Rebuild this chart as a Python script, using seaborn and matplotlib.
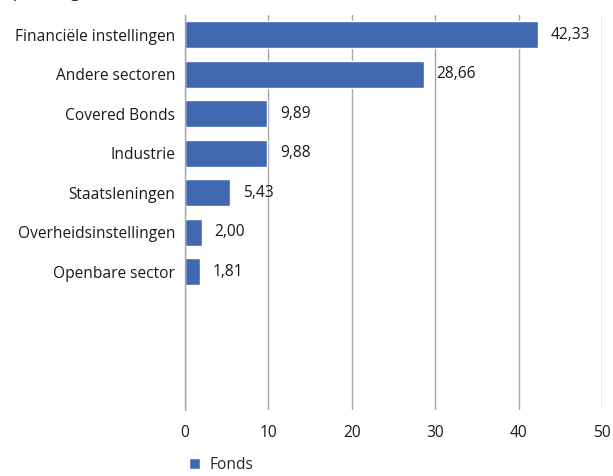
import matplotlib
matplotlib.use("Agg")
import matplotlib.pyplot as plt
import seaborn as sns
import pandas as pd
from matplotlib.patches import Patch

categories = ["Financiële instellingen", "Andere sectoren", "Covered Bonds",
              "Industrie", "Staatsleningen", "Overheidsinstellingen", "Openbare sector"]
values = [42.33, 28.66, 9.89, 9.88, 5.43, 2.00, 1.81]
x_ticks = [0, 10, 20, 30, 40, 50]
series_name = "Fonds"
title = "Spreiding (%)"

df = pd.DataFrame({"sector": categories, "pct": values})

sns.set_theme(style="white")
plt.rcParams["font.family"] = ["Open Sans", "DejaVu Sans"]

bar_color = "#4169B1"
grid_color = "#A6A6A6"
text_color = "#1a1a1a"
fs = 11.2

fig = plt.figure(figsize=(6.13, 4.76), dpi=100)
ax = fig.add_axes([185 / 613, 66 / 476, 417 / 613, 395 / 476])

sns.barplot(data=df, x="pct", y="sector", orient="h", color=bar_color,
            width=0.68, saturation=1, ax=ax)

# ten category slots, the last three left empty
ax.set_ylim(9.5, -0.5)
ax.set_xlim(0, 50)
ax.set_xticks(x_ticks)
ax.set_xticklabels([str(t) for t in x_ticks], fontsize=fs, color=text_color)
ax.tick_params(axis="x", length=0, pad=11)
ax.tick_params(axis="y", length=0, pad=7, labelsize=fs, labelcolor=text_color)
ax.set_xlabel("")
ax.set_ylabel("")

ax.xaxis.grid(True, color=grid_color, linewidth=1)
ax.set_axisbelow(True)
for side in ["top", "right", "bottom"]:
    ax.spines[side].set_visible(False)
ax.spines["left"].set_color(grid_color)
ax.spines["left"].set_linewidth(1)

for i, v in enumerate(values):
    ax.annotate(f"{v:.2f}".replace(".", ","), xy=(v, i), xytext=(9, 0),
                textcoords="offset points", va="center", ha="left",
                fontsize=fs, color=text_color)

fig.legend(handles=[Patch(facecolor=bar_color, label=series_name)],
           loc="center left", bbox_to_anchor=(183 / 613, 1 - 465 / 476),
           frameon=False, fontsize=fs, handlelength=0.7, handleheight=0.7,
           handletextpad=0.6, borderaxespad=0)

# title sits above the top edge; only its descenders remain in view
fig.text(3 / 613, 1 + 3 / 476, title, ha="left", va="baseline",
         fontsize=12.5, color=text_color)

fig.savefig("out.png", dpi=100)
